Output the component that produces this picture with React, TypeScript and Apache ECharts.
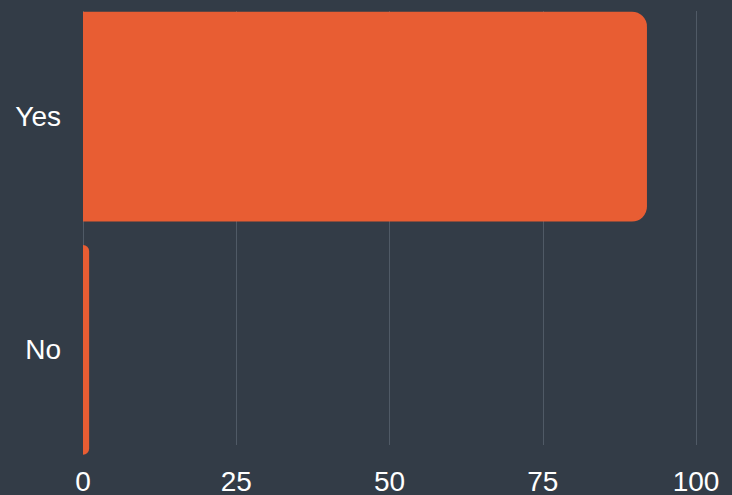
import React, { useEffect, useRef } from "react";
import * as echarts from "echarts";

const categories = ["Yes", "No"];
const values = [92, 1];
const tickValues = [0, 25, 50, 75, 100];

export default function App() {
  const ref = useRef<HTMLDivElement>(null);
  useEffect(() => {
    if (!ref.current) return;
    const chart = echarts.init(ref.current, null, { renderer: "svg" });
    const font = "Liberation Sans, Arial, sans-serif";
    chart.setOption({
      animation: false,
      backgroundColor: "#333c47",
      grid: [
        { left: 83, right: 36, top: -1.5, bottom: 28.5 },
        { left: 83, right: 36, top: 11, bottom: 40 },
      ],
      xAxis: [
        {
          type: "value",
          gridIndex: 0,
          min: tickValues[0],
          max: tickValues[tickValues.length - 1],
          interval: 25,
          show: false,
        },
        {
          type: "value",
          gridIndex: 1,
          min: tickValues[0],
          max: tickValues[tickValues.length - 1],
          interval: 25,
          axisLine: { show: false },
          axisTick: { show: false },
          splitLine: { show: true, lineStyle: { color: "#505a66", width: 1 } },
          axisLabel: {
            color: "#ffffff",
            fontSize: 28,
            fontFamily: font,
            margin: 22,
          },
        },
      ],
      yAxis: [
        {
          type: "category",
          gridIndex: 0,
          data: categories,
          inverse: true,
          axisLine: { show: false },
          axisTick: { show: false },
          splitLine: { show: false },
          axisLabel: {
            color: "#ffffff",
            fontSize: 28,
            fontFamily: font,
            margin: 22,
          },
        },
        {
          type: "category",
          gridIndex: 1,
          data: categories,
          show: false,
        },
      ],
      series: [
        {
          type: "bar",
          xAxisIndex: 0,
          yAxisIndex: 0,
          data: values,
          barCategoryGap: "10%",
          itemStyle: { color: "#e85d33", borderRadius: [0, 15, 15, 0] },
          z: 3,
        },
      ],
    });
    return () => chart.dispose();
  }, []);
  return <div ref={ref} style={{ width: 732, height: 495, position: "absolute", left: 0, top: 0 }} />;
}
